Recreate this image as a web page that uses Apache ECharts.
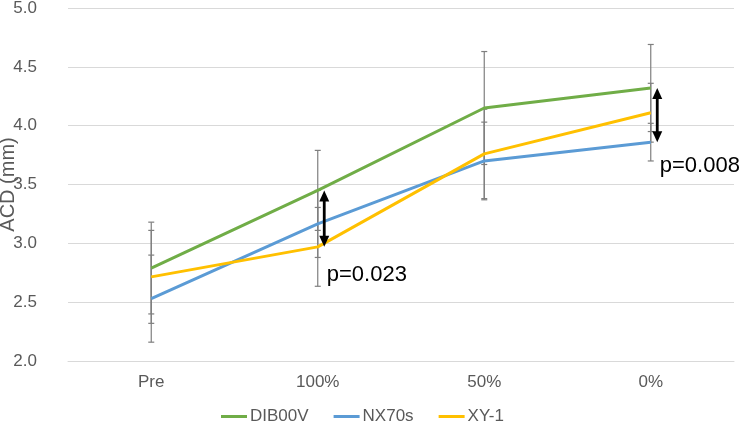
<!DOCTYPE html>
<html>
<head>
<meta charset="utf-8">
<script src="https://cdn.jsdelivr.net/npm/echarts@6/dist/echarts.min.js"></script>
<style>html,body{margin:0;padding:0;background:#fff}#c{width:750px;height:423px}</style>
</head>
<body>
<div id="c"></div>
<script>
var categories = ['Pre', '100%', '50%', '0%'];
var seriesNames = ['DIB00V', 'NX70s', 'XY-1'];
var dib00v = [2.79, 3.45, 4.15, 4.32];
var nx70s = [2.53, 3.165, 3.70, 3.86];
var xy1 = [2.715, 2.97, 3.76, 4.11];
var dib00vErr = [0.39, 0.34, 0.48, 0.37];
var nx70sErr = [0.37, 0.285, 0.33, 0.16];
var xy1Err = [0.395, 0.335, 0.38, 0.25];
var yTicks = [2.0, 2.5, 3.0, 3.5, 4.0, 4.5, 5.0];
// [categoryIndex, upper value, lower value, label, label value]
var annotations = [
  [1, 3.45, 2.97, 'p=0.023', 2.73],
  [3, 4.32, 3.86, 'p=0.008', 3.66]
];

var colors = ['#70AD47', '#5B9BD5', '#FFC000'];
var values = [dib00v, nx70s, xy1];
var errs = [dib00vErr, nx70sErr, xy1Err];

function errData(v, e) {
  return v.map(function (x, i) { return [i, x + e[i], x - e[i]]; });
}

function renderErr(params, api) {
  var top = api.coord([api.value(0), api.value(1)]);
  var bot = api.coord([api.value(0), api.value(2)]);
  var x = top[0], hw = 3;
  var st = { stroke: '#7F7F7F', lineWidth: 1.2 };
  return {
    type: 'group',
    children: [
      { type: 'line', shape: { x1: x, y1: top[1], x2: x, y2: bot[1] }, style: st },
      { type: 'line', shape: { x1: x - hw, y1: top[1], x2: x + hw, y2: top[1] }, style: st },
      { type: 'line', shape: { x1: x - hw, y1: bot[1], x2: x + hw, y2: bot[1] }, style: st }
    ]
  };
}

function renderArrow(params, api) {
  var top = api.coord([api.value(0), api.value(1)]);
  var bot = api.coord([api.value(0), api.value(2)]);
  var lab = api.coord([api.value(0), api.value(4)]);
  var x = top[0] + 6.5;
  var ah = 11, aw = 5;
  var t = top[1], b = bot[1];
  return {
    type: 'group',
    children: [
      { type: 'line', shape: { x1: x, y1: t + ah - 1, x2: x, y2: b - ah + 1 }, style: { stroke: '#000', lineWidth: 2.8 } },
      { type: 'polygon', shape: { points: [[x, t], [x - aw, t + ah], [x + aw, t + ah]] }, style: { fill: '#000' } },
      { type: 'polygon', shape: { points: [[x, b], [x - aw, b - ah], [x + aw, b - ah]] }, style: { fill: '#000' } },
      { type: 'text', x: x + 2.5, y: lab[1], style: { text: api.value(3), fill: '#000', font: '22px Arial, "Liberation Sans", sans-serif', textAlign: 'left', textVerticalAlign: 'middle' } }
    ]
  };
}

var series = [];
for (var k = 0; k < 3; k++) {
  series.push({
    name: seriesNames[k] + '_err',
    type: 'custom',
    renderItem: renderErr,
    data: errData(values[k], errs[k]),
    encode: { x: 0, y: [1, 2] },
    z: 1,
    silent: true
  });
}
for (var k2 = 0; k2 < 3; k2++) {
  series.push({
    name: seriesNames[k2],
    type: 'line',
    data: values[k2],
    symbol: 'none',
    lineStyle: { width: 3, color: colors[k2] },
    itemStyle: { color: colors[k2] },
    z: 3
  });
}
series.push({
  name: 'annot',
  type: 'custom',
  renderItem: renderArrow,
  data: annotations,
  encode: { x: 0, y: [1, 2] },
  z: 5,
  silent: true
});

var chart = echarts.init(document.getElementById('c'));
chart.setOption({
  animation: false,
  textStyle: { fontFamily: 'Arial, "Liberation Sans", sans-serif' },
  grid: { left: 68, right: 16, top: 8, bottom: 62, containLabel: false, outerBoundsMode: 'none' },
  legend: {
    data: seriesNames.map(function (n) { return { name: n, icon: 'rect' }; }),
    top: 403,
    left: 216,
    itemWidth: 26,
    itemHeight: 3,
    itemGap: 25,
    textStyle: { fontSize: 17, color: '#595959', padding: [0, 0, 0, -2] }
  },
  xAxis: {
    type: 'category',
    data: categories,
    boundaryGap: true,
    axisLine: { lineStyle: { color: '#D9D9D9', width: 1 } },
    axisTick: { show: false },
    axisLabel: { fontSize: 17, color: '#595959', margin: 13 }
  },
  yAxis: {
    type: 'value',
    min: yTicks[0],
    max: yTicks[yTicks.length - 1],
    interval: 0.5,
    name: 'ACD (mm)',
    nameLocation: 'middle',
    nameGap: 50,
    nameMoveOverlap: false,
    nameTextStyle: { fontSize: 20, color: '#595959' },
    axisLine: { show: false },
    axisTick: { show: false },
    splitLine: { lineStyle: { color: '#D9D9D9', width: 1 } },
    axisLabel: { fontSize: 17, color: '#595959', margin: 31, formatter: function (v) { return v.toFixed(1); } }
  },
  series: series
});
</script>
</body>
</html>
